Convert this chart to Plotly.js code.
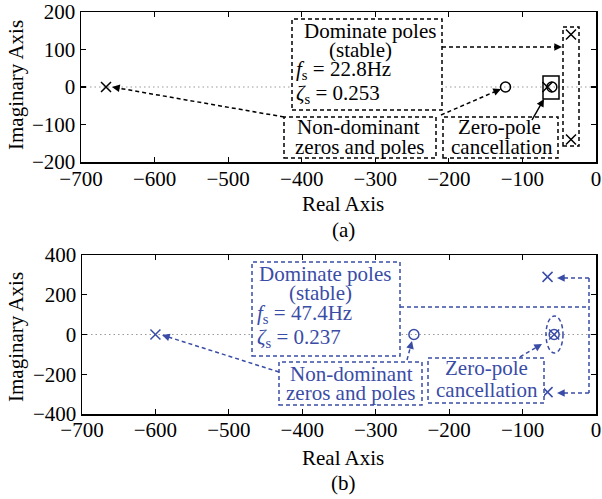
<!DOCTYPE html>
<html><head><meta charset="utf-8">
<script src="https://cdn.plot.ly/plotly-3.0.1.min.js"></script>
<style>html,body{margin:0;padding:0;background:#fff}#chart{width:602px;height:499px}</style>
</head><body><div id="chart"></div>
<script>
// ---- data (a): black
const polesA_re = [-666, -34, -34, -66];
const polesA_im = [0, 140, -140, 0];
const zerosA_re = [-123, -60];
const zerosA_im = [0, 0];
// ---- data (b): blue
const polesB_re = [-600, -66, -66, -57];
const polesB_im = [0, 290, -290, 0];
const zerosB_re = [-248, -57];
const zerosB_im = [0, 0];
// ticks
const xTicks = [-700, -600, -500, -400, -300, -200, -100, 0];
const yTicksA = [-200, -100, 0, 100, 200];
const yTicksB = [-400, -200, 0, 200, 400];

const W = 602, H = 499;
const PX = x => x / W, PY = y => 1 - y / H;
const FONT = 'Liberation Serif, Times New Roman, serif';
const BLK = '#000000', BLUE = '#3a4ca6';
const DASH = '4px,3px';
const FS = 21;

const shapes = [], annotations = [];
function zline(xr, yr) {
  shapes.push({type: 'line', xref: xr, yref: yr, x0: -700, x1: 0, y0: 0, y1: 0,
    line: {color: '#9a9a9a', width: 1.2, dash: '1.5px,3px'}, layer: 'below'});
}
function rect(x0, y0, x1, y1, color, dash, fill) {
  shapes.push({type: 'rect', xref: 'paper', yref: 'paper', x0: PX(x0), x1: PX(x1), y0: PY(y1), y1: PY(y0),
    line: {color: color, width: 1.5, dash: dash || 'solid'}, fillcolor: fill || 'rgba(0,0,0,0)', layer: 'above'});
}
function ellipse(x0, y0, x1, y1, color) {
  shapes.push({type: 'circle', xref: 'paper', yref: 'paper', x0: PX(x0), x1: PX(x1), y0: PY(y1), y1: PY(y0),
    line: {color: color, width: 1.5, dash: DASH}, layer: 'above'});
}
function seg(x0, y0, x1, y1, color, dash) {
  shapes.push({type: 'line', xref: 'paper', yref: 'paper', x0: PX(x0), x1: PX(x1), y0: PY(y0), y1: PY(y1),
    line: {color: color, width: 1.5, dash: dash || 'solid'}, layer: 'above'});
}
function arrow(x0, y0, x1, y1, color, dash) {
  const dx = x1 - x0, dy = y1 - y0, L = Math.hypot(dx, dy);
  seg(x0, y0, x1 - dx / L * 4, y1 - dy / L * 4, color, dash);
  annotations.push({xref: 'paper', yref: 'paper', x: PX(x1), y: PY(y1), text: '',
    showarrow: true, arrowhead: 2, arrowsize: 1.1, arrowwidth: 1.4, arrowcolor: color,
    ax: -dx / L * 9, ay: -dy / L * 9, standoff: 0});
}
function txt(x, y, s, color, anchor, size, angle) {
  const a = {xref: 'paper', yref: 'paper', x: PX(x), y: PY(y), text: s, showarrow: false,
    xanchor: anchor || 'center', yanchor: 'middle', font: {family: FONT, size: size || FS, color: color}};
  if (angle) a.textangle = angle;
  annotations.push(a);
}

// dotted real axes
zline('x', 'y'); zline('x2', 'y2');

// ---------- annotations (a)
rect(292, 19, 442, 110, BLK, DASH, 'white');
txt(370, 31, 'Dominate poles', BLK);
txt(360, 50, '(stable)', BLK);
txt(294, 70, '<i>f</i><sub>s</sub> = 22.8Hz', BLK, 'left');
txt(294, 94, '<i>ζ</i><sub>s</sub> = 0.253', BLK, 'left');
rect(284, 117, 436, 158, BLK, DASH, 'white');
txt(358, 127, 'Non-dominant', BLK);
txt(359, 147, 'zeros and poles', BLK);
rect(443, 117, 558, 158, BLK, DASH, 'white');
txt(499, 127, 'Zero-pole', BLK);
txt(502, 147, 'cancellation', BLK);
rect(563, 27, 579, 146, BLK, DASH);
rect(543, 76, 559, 99, BLK);
arrow(284, 117, 112, 87, BLK, DASH);
arrow(441, 115, 501, 89, BLK, DASH);
arrow(442, 47, 562, 47, BLK, DASH);
arrow(532, 120, 544, 99, BLK);

// ---------- annotations (b)
rect(252, 262, 400, 356, BLUE, DASH, 'white');
txt(325, 274, 'Dominate poles', BLUE);
txt(320, 293, '(stable)', BLUE);
txt(255, 314, '<i>f</i><sub>s</sub> = 47.4Hz', BLUE, 'left');
txt(255, 338, '<i>ζ</i><sub>s</sub> = 0.237', BLUE, 'left');
rect(279, 362, 422, 405, BLUE, DASH, 'white');
txt(351, 374, 'Non-dominant', BLUE);
txt(350, 393, 'zeros and poles', BLUE);
rect(428, 358, 544, 403, BLUE, DASH, 'white');
txt(486, 368, 'Zero-pole', BLUE);
txt(487, 390, 'cancellation', BLUE);
ellipse(546, 316, 563, 353, BLUE);
arrow(279, 372, 162, 335, BLUE, DASH);
arrow(407, 360, 412, 341, BLUE, DASH);
arrow(520, 357, 542, 344, BLUE, DASH);
seg(400, 307, 589, 307, BLUE, DASH);
seg(589, 278, 589, 393, BLUE, DASH);
arrow(589, 278, 557, 278, BLUE, DASH);
arrow(589, 393, 557, 393, BLUE, DASH);

// axis titles & captions
txt(16, 85, 'Imaginary Axis', BLK, 'center', FS, -90);
txt(343, 204, 'Real Axis', BLK);
txt(343, 230, '(a)', BLK);
txt(16, 337, 'Imaginary Axis', BLK, 'center', FS, -90);
txt(343, 458, 'Real Axis', BLK);
txt(343, 483, '(b)', BLK);

function mk(x, y, sym, color, xa, ya) {
  return {x: x, y: y, xaxis: xa, yaxis: ya, type: 'scatter', mode: 'markers', hoverinfo: 'skip', showlegend: false,
    marker: {symbol: sym, size: 10, color: color, line: {color: color, width: 1.5}}};
}
const data = [
  mk(polesA_re, polesA_im, 'x-thin-open', BLK, 'x', 'y'),
  mk(zerosA_re, zerosA_im, 'circle-open', BLK, 'x', 'y'),
  mk(polesB_re, polesB_im, 'x-thin-open', BLUE, 'x2', 'y2'),
  mk(zerosB_re, zerosB_im, 'circle-open', BLUE, 'x2', 'y2')
];

const ax = {
  ticks: 'inside', ticklen: 5, tickwidth: 1.2, tickcolor: BLK, mirror: 'ticks', showline: true,
  linewidth: 1.5, linecolor: BLK, showgrid: false, zeroline: false, automargin: false,
  tickfont: {family: FONT, size: FS, color: BLK}, fixedrange: true
};
const layout = {
  width: W, height: H, margin: {l: 0, r: 0, t: 0, b: 0}, showlegend: false,
  paper_bgcolor: '#fff', plot_bgcolor: '#fff',
  xaxis: Object.assign({}, ax, {domain: [PX(81), PX(596)], range: [-700, 0], tickvals: xTicks, anchor: 'y', ticklabelstandoff: -3}),
  yaxis: Object.assign({}, ax, {domain: [PY(162), PY(12)], range: [-200, 200], tickvals: yTicksA, anchor: 'x'}),
  xaxis2: Object.assign({}, ax, {domain: [PX(82), PX(596)], range: [-700, 0], tickvals: xTicks, anchor: 'y2', ticklabelstandoff: -4}),
  yaxis2: Object.assign({}, ax, {domain: [PY(414), PY(255)], range: [-400, 400], tickvals: yTicksB, anchor: 'x2'}),
  shapes: shapes, annotations: annotations
};
Plotly.newPlot('chart', data, layout, {displayModeBar: false, staticPlot: true});
</script></body></html>
